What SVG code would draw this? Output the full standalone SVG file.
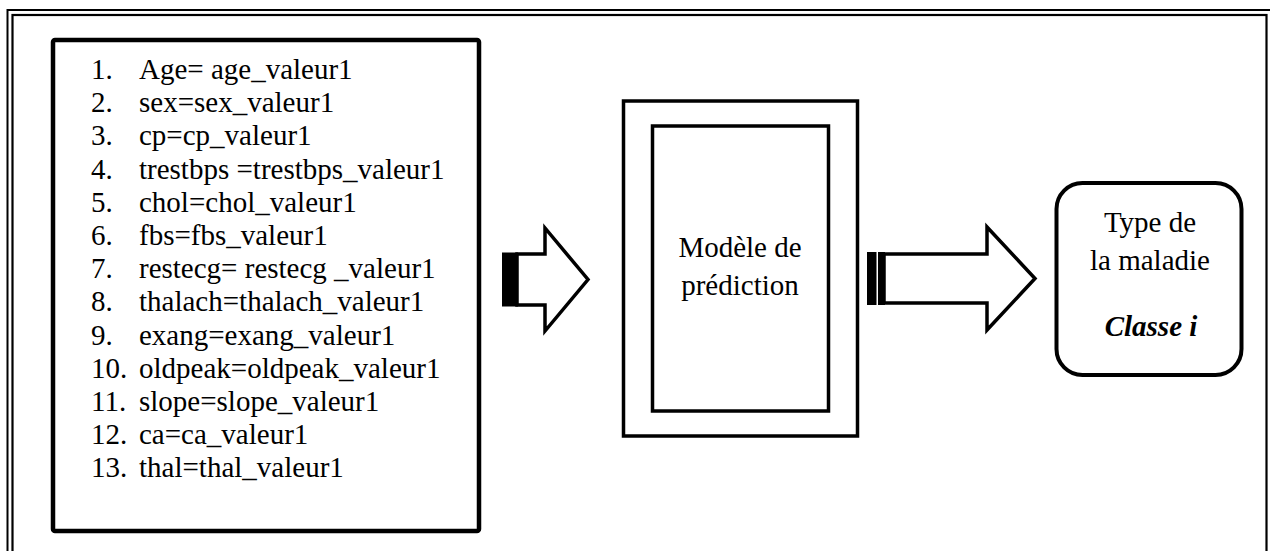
<svg xmlns="http://www.w3.org/2000/svg" width="1270" height="551" viewBox="0 0 1270 551" font-family="'Liberation Serif', 'Times New Roman', Times, 'DejaVu Serif', serif">
  <style>
    .frame { fill: none; stroke: #000; }
    .box { fill: #fff; stroke: #000; }
    .arrow { fill: #fff; stroke: #000; stroke-width: 3.5; stroke-linejoin: miter; }
    .stripe { fill: #000; }
    .t { font-family: 'Liberation Serif', 'Times New Roman', Times, 'DejaVu Serif', serif; font-size: 29px; fill: #000; }
    .c { text-anchor: middle; }
    .bi { font-weight: bold; font-style: italic; }
  </style>

  <!-- page border (double line, runs off the right and bottom edges) -->
  <g id="page-border">
    <rect class="frame" x="7.5" y="10" width="1270" height="600" stroke-width="2"/>
    <rect class="frame" x="12.5" y="15" width="1254" height="600" stroke-width="2.2"/>
  </g>

  <!-- input attributes -->
  <g id="attributes">
    <rect class="box" x="53" y="40" width="426" height="491" rx="2" stroke-width="4.5"/>
    <g class="t">
      <text x="91" y="79">1.</text><text x="139" y="79">Age= age_valeur1</text>
      <text x="91" y="112.2">2.</text><text x="139" y="112.2">sex=sex_valeur1</text>
      <text x="91" y="145.4">3.</text><text x="139" y="145.4">cp=cp_valeur1</text>
      <text x="91" y="178.6">4.</text><text x="139" y="178.6">trestbps =trestbps_valeur1</text>
      <text x="91" y="211.8">5.</text><text x="139" y="211.8">chol=chol_valeur1</text>
      <text x="91" y="245">6.</text><text x="139" y="245">fbs=fbs_valeur1</text>
      <text x="91" y="278.2">7.</text><text x="139" y="278.2">restecg= restecg _valeur1</text>
      <text x="91" y="311.4">8.</text><text x="139" y="311.4">thalach=thalach_valeur1</text>
      <text x="91" y="344.6">9.</text><text x="139" y="344.6">exang=exang_valeur1</text>
      <text x="91" y="377.8">10.</text><text x="139" y="377.8">oldpeak=oldpeak_valeur1</text>
      <text x="91" y="411">11.</text><text x="139" y="411">slope=slope_valeur1</text>
      <text x="91" y="444.2">12.</text><text x="139" y="444.2">ca=ca_valeur1</text>
      <text x="91" y="477.4">13.</text><text x="139" y="477.4">thal=thal_valeur1</text>
    </g>
  </g>

  <!-- prediction model -->
  <g id="model">
    <rect class="box" x="623.5" y="101" width="234" height="335" stroke-width="3.5"/>
    <rect class="box" x="652.5" y="126" width="176" height="285" stroke-width="3.5"/>
    <text class="t c" x="740" y="257">Modèle de</text>
    <text class="t c" x="740" y="295">prédiction</text>
  </g>

  <!-- output class -->
  <g id="result">
    <rect class="box" x="1056.5" y="183" width="185" height="192" rx="26" stroke-width="4"/>
    <text class="t c" x="1150" y="232">Type de</text>
    <text class="t c" x="1150" y="270">la maladie</text>
    <text class="t c bi" x="1151" y="336">Classe i</text>
  </g>

  <!-- striped block arrows between the stages -->
  <g id="connectors">
    <g id="arrow-in">
      <path class="arrow" d="M517,254 H545 V228 L588,279.5 L545,331 V305 H517 Z"/>
      <rect class="stripe" x="502" y="252.5" width="16" height="54"/>
    </g>
    <g id="arrow-out">
      <path class="arrow" d="M884,254 H987 V227 L1035,278.5 L987,330 V303 H884 Z"/>
      <rect class="stripe" x="867" y="252" width="9.5" height="53"/>
      <rect class="stripe" x="878" y="252" width="7" height="53"/>
    </g>
  </g>
</svg>
